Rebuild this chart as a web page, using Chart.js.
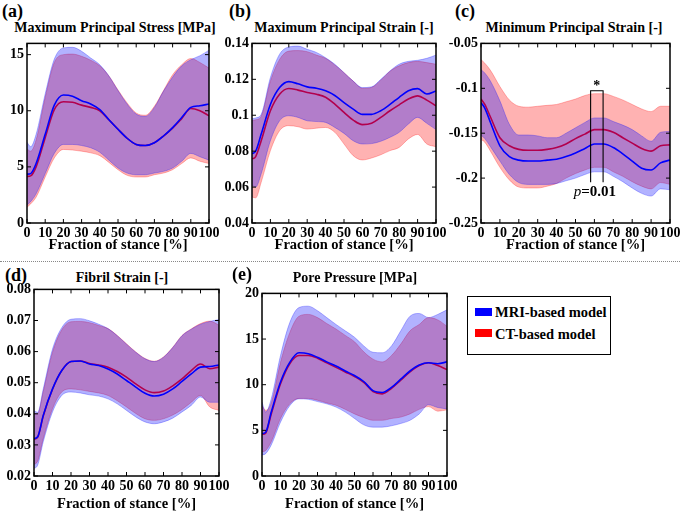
<!DOCTYPE html>
<html>
<head>
<meta charset="utf-8">
<script src="https://cdn.jsdelivr.net/npm/chart.js@4.4.1/dist/chart.umd.min.js"></script>
<style>
  body { margin: 0; background: #fff; }
  #fig { position: relative; width: 680px; height: 511px; overflow: hidden;
         font-family: "Liberation Serif", "Times New Roman", serif; font-weight: bold; color: #000; }
  .tag { position: absolute; font-size: 18px; line-height: 20px; }
  .ttl { position: absolute; font-size: 14px; line-height: 20px; white-space: nowrap; transform: translateX(-50%); }
  .sep { position: absolute; left: 0; top: 261px; width: 680px; border-top: 1px dotted #888; }
  .legend { position: absolute; left: 467px; top: 296px; width: 142px; height: 57px; border: 1px solid #000; }
  .legend .sw { position: absolute; left: 7px; width: 17px; height: 8px; }
  .legend .lb { position: absolute; left: 27px; font-size: 14.5px; line-height: 20px; white-space: nowrap; }
</style>
</head>
<body>
<div id="fig">
  <div class="sep"></div>
  <div class="legend">
    <div class="sw" style="top:11px;background:#0000ff"></div>
    <div class="lb" style="top:5px">MRI-based model</div>
    <div class="sw" style="top:32px;background:#ff0000"></div>
    <div class="lb" style="top:27px">CT-based model</div>
  </div>
</div>
<script>
// fraction of stance [%] at which values were read
const STANCE = [0, 2, 5, 10, 15, 20, 25, 30, 35, 40, 45, 50, 55, 60, 65, 70, 75, 80, 85, 90, 95, 100];
const X_TICKS = [0, 10, 20, 30, 40, 50, 60, 70, 80, 90, 100];

// (a) Maximum principal stress [MPa]
const A_MRI_MEAN = [4.35, 4.4, 5.3, 7.9, 10.5, 11.4, 11.3, 10.9, 10.6, 10.1, 9.2, 8.35, 7.55, 7.0, 6.9, 7.15, 7.75, 8.5, 9.4, 10.3, 10.45, 10.6];
const A_MRI_UP   = [7.2, 6.8, 7.9, 11.5, 14.6, 15.6, 15.65, 15.3, 14.7, 14.1, 13.1, 11.8, 10.6, 9.7, 9.5, 10.3, 11.75, 13.0, 14.0, 14.55, 14.9, 15.4];
const A_MRI_LO   = [1.6, 1.9, 2.6, 4.4, 6.2, 7.0, 7.0, 6.9, 6.7, 6.3, 5.6, 4.9, 4.45, 4.3, 4.3, 4.45, 4.6, 4.9, 5.5, 6.2, 5.9, 5.6];
const A_CT_MEAN  = [4.15, 4.2, 5.0, 7.6, 10.1, 10.8, 10.75, 10.5, 10.3, 10.0, 9.2, 8.35, 7.55, 7.0, 6.9, 7.15, 7.75, 8.45, 9.3, 10.2, 10.0, 9.55];
const A_CT_UP    = [6.6, 6.4, 7.4, 11.2, 14.3, 15.0, 15.05, 14.85, 14.5, 14.0, 13.1, 11.85, 10.7, 9.8, 9.6, 10.4, 11.8, 13.2, 14.1, 14.65, 14.3, 13.8];
const A_CT_LO    = [1.4, 1.7, 2.3, 4.1, 5.8, 6.55, 6.5, 6.4, 6.25, 6.0, 5.4, 4.75, 4.25, 4.1, 4.1, 4.3, 4.45, 4.75, 5.3, 5.8, 5.5, 5.3];
const A_Y_TICKS  = [0, 5, 10, 15];
const A_Y_LABELS = ['0', '5', '10', '15'];

// (b) Maximum principal strain [-]
const B_MRI_MEAN = [0.0785, 0.080, 0.0895, 0.106, 0.1154, 0.1187, 0.1175, 0.1158, 0.115, 0.1136, 0.111, 0.107, 0.1034, 0.1005, 0.1005, 0.1025, 0.106, 0.110, 0.1136, 0.1148, 0.1118, 0.1135];
const B_MRI_UP   = [0.098, 0.0985, 0.1005, 0.121, 0.134, 0.138, 0.1385, 0.1367, 0.135, 0.132, 0.1284, 0.1237, 0.119, 0.1154, 0.1158, 0.120, 0.1247, 0.1284, 0.130, 0.1306, 0.1317, 0.1335];
const B_MRI_LO   = [0.061, 0.060, 0.0674, 0.0858, 0.0969, 0.0997, 0.0988, 0.0969, 0.0965, 0.096, 0.0932, 0.0899, 0.0858, 0.084, 0.0842, 0.0855, 0.0877, 0.0905, 0.0951, 0.0988, 0.0955, 0.092];
const B_CT_MEAN  = [0.0757, 0.077, 0.0858, 0.1025, 0.1117, 0.1149, 0.114, 0.1127, 0.1117, 0.110, 0.1062, 0.1016, 0.0973, 0.0948, 0.0955, 0.0988, 0.1025, 0.1058, 0.109, 0.1108, 0.1084, 0.1052];
const B_CT_UP    = [0.097, 0.0975, 0.0995, 0.119, 0.1311, 0.1357, 0.136, 0.1354, 0.1335, 0.1317, 0.128, 0.1237, 0.119, 0.115, 0.1155, 0.1195, 0.1245, 0.1275, 0.1293, 0.130, 0.1293, 0.1284];
const B_CT_LO    = [0.0545, 0.054, 0.0627, 0.0803, 0.0914, 0.0942, 0.0936, 0.0923, 0.0928, 0.0932, 0.0905, 0.084, 0.0775, 0.0751, 0.0762, 0.078, 0.0803, 0.0821, 0.0868, 0.0893, 0.084, 0.0825];
const B_Y_TICKS  = [0.04, 0.06, 0.08, 0.1, 0.12, 0.14];
const B_Y_LABELS = ['0.04', '0.06', '0.08', '0.1', '0.12', '0.14'];

// (c) Minimum principal strain [-]
const C_MRI_MEAN = [-0.116, -0.122, -0.138, -0.164, -0.176, -0.18, -0.181, -0.181, -0.180, -0.179, -0.176, -0.172, -0.167, -0.162, -0.162, -0.166, -0.173, -0.181, -0.189, -0.191, -0.183, -0.180];
const C_MRI_UP   = [-0.079, -0.083, -0.092, -0.114, -0.140, -0.152, -0.152, -0.153, -0.155, -0.155, -0.150, -0.144, -0.138, -0.133, -0.133, -0.137, -0.141, -0.146, -0.153, -0.159, -0.149, -0.148];
const C_MRI_LO   = [-0.152, -0.156, -0.165, -0.181, -0.196, -0.205, -0.207, -0.207, -0.207, -0.206, -0.203, -0.200, -0.196, -0.193, -0.193, -0.198, -0.204, -0.211, -0.217, -0.220, -0.212, -0.213];
const C_CT_MEAN  = [-0.112, -0.118, -0.132, -0.155, -0.164, -0.168, -0.169, -0.169, -0.168, -0.166, -0.162, -0.156, -0.151, -0.146, -0.146, -0.149, -0.155, -0.161, -0.167, -0.170, -0.164, -0.163];
const C_CT_UP    = [-0.068, -0.072, -0.080, -0.098, -0.113, -0.120, -0.121, -0.120, -0.119, -0.118, -0.115, -0.112, -0.108, -0.106, -0.106, -0.109, -0.113, -0.118, -0.123, -0.126, -0.120, -0.120];
const C_CT_LO    = [-0.157, -0.160, -0.170, -0.188, -0.202, -0.210, -0.211, -0.211, -0.209, -0.206, -0.200, -0.195, -0.191, -0.188, -0.188, -0.193, -0.198, -0.204, -0.209, -0.212, -0.205, -0.207];
const C_Y_TICKS  = [-0.25, -0.2, -0.15, -0.1, -0.05];
const C_Y_LABELS = ['-0.25', '-0.2', '-0.15', '-0.1', '-0.05'];
// significance bracket in (c)
const C_SIG_X = [58, 58, 64.6, 64.6];
const C_SIG_Y = [-0.2047, -0.1027, -0.1027, -0.2047];
const C_STAR_AT = [61.3, -0.098];
const C_P_AT = [60.2, -0.2157];

// (d) Fibril strain [-]
const D_MRI_MEAN = [0.032, 0.0326, 0.0395, 0.048, 0.0539, 0.0568, 0.057, 0.056, 0.0555, 0.0544, 0.0528, 0.0507, 0.0486, 0.0466, 0.0457, 0.0463, 0.048, 0.0504, 0.0528, 0.055, 0.0552, 0.0557];
const D_MRI_UP   = [0.041, 0.0405, 0.048, 0.0608, 0.0677, 0.0704, 0.0706, 0.0699, 0.0688, 0.0674, 0.0651, 0.0624, 0.0598, 0.0577, 0.0568, 0.0582, 0.0613, 0.0651, 0.0672, 0.0688, 0.0697, 0.0703];
const D_MRI_LO   = [0.0224, 0.0235, 0.031, 0.0406, 0.0459, 0.047, 0.0467, 0.0461, 0.0457, 0.0448, 0.0432, 0.0411, 0.039, 0.0374, 0.0368, 0.0374, 0.0386, 0.0406, 0.0427, 0.0454, 0.0437, 0.0437];
const D_CT_MEAN  = [0.0318, 0.0325, 0.0393, 0.0479, 0.0539, 0.0568, 0.057, 0.0562, 0.0557, 0.055, 0.0536, 0.0518, 0.0496, 0.0477, 0.0468, 0.0473, 0.049, 0.0512, 0.0539, 0.056, 0.0545, 0.055];
const D_CT_UP    = [0.040, 0.040, 0.0472, 0.0598, 0.067, 0.0696, 0.0697, 0.0693, 0.0684, 0.0674, 0.0652, 0.0625, 0.0599, 0.0578, 0.0569, 0.0583, 0.0614, 0.0652, 0.0673, 0.069, 0.0698, 0.0685];
const D_CT_LO    = [0.0237, 0.0248, 0.032, 0.0416, 0.047, 0.048, 0.0477, 0.0472, 0.0467, 0.0459, 0.0442, 0.0422, 0.0401, 0.0384, 0.0379, 0.0384, 0.0396, 0.0414, 0.0437, 0.0459, 0.0422, 0.0411];
const D_Y_TICKS  = [0.02, 0.03, 0.04, 0.05, 0.06, 0.07, 0.08];
const D_Y_LABELS = ['0.02', '0.03', '0.04', '0.05', '0.06', '0.07', '0.08'];

// (e) Pore pressure [MPa]
const E_MRI_MEAN = [4.65, 4.8, 7.0, 10.3, 12.45, 13.5, 13.4, 13.0, 12.5, 12.05, 11.5, 11.0, 10.35, 9.35, 9.15, 9.7, 10.6, 11.5, 12.15, 12.4, 12.3, 12.5];
const E_MRI_UP   = [8.1, 7.0, 8.45, 13.2, 16.8, 18.45, 18.6, 18.1, 17.35, 16.6, 15.9, 15.2, 14.25, 13.55, 13.5, 14.25, 15.9, 17.5, 17.8, 17.35, 17.7, 18.2];
const E_MRI_LO   = [2.3, 2.45, 3.4, 5.9, 7.7, 8.45, 8.4, 8.15, 7.9, 7.55, 7.0, 6.3, 5.6, 5.35, 5.35, 5.5, 5.75, 6.1, 6.8, 7.8, 7.5, 7.35];
const E_CT_MEAN  = [4.55, 4.7, 6.8, 10.1, 12.3, 13.2, 13.2, 12.9, 12.4, 11.9, 11.4, 10.9, 10.25, 9.25, 9.0, 9.6, 10.5, 11.4, 12.1, 12.4, 12.1, 11.65];
const E_CT_UP    = [7.7, 7.2, 8.0, 12.45, 15.7, 17.5, 17.7, 17.35, 16.7, 16.1, 15.4, 14.7, 13.6, 12.8, 12.5, 13.2, 14.45, 15.9, 16.6, 17.35, 17.1, 16.4];
const E_CT_LO    = [2.65, 2.8, 3.75, 6.3, 7.9, 8.5, 8.5, 8.3, 8.0, 7.75, 7.3, 6.8, 6.4, 6.1, 6.1, 6.3, 6.45, 6.8, 7.3, 7.6, 7.1, 7.25];
const E_Y_TICKS  = [0, 5, 10, 15, 20];
const E_Y_LABELS = ['0', '5', '10', '15', '20'];

const X_TITLE = 'Fraction of stance [%]';

const panels = [
  { tag: '(a)', title: 'Maximum Principal Stress [MPa]', box: [27, 42, 209, 223], tagAt: [2, 1], ttlAt: [115, 18],
    yMax: 16, yTicks: A_Y_TICKS, yLabels: A_Y_LABELS, mri: [A_MRI_MEAN, A_MRI_UP, A_MRI_LO], ct: [A_CT_MEAN, A_CT_UP, A_CT_LO], xh: 31 },
  { tag: '(b)', title: 'Maximum Principal Strain [-]', box: [252, 42, 436, 223], tagAt: [229, 1], ttlAt: [344, 18],
    yMax: 0.14, yTicks: B_Y_TICKS, yLabels: B_Y_LABELS, mri: [B_MRI_MEAN, B_MRI_UP, B_MRI_LO], ct: [B_CT_MEAN, B_CT_UP, B_CT_LO], xh: 31 },
  { tag: '(c)', title: 'Minimum Principal Strain [-]', box: [481, 42, 670, 223], tagAt: [455, 1], ttlAt: [574, 18],
    yMax: -0.05, yTicks: C_Y_TICKS, yLabels: C_Y_LABELS, mri: [C_MRI_MEAN, C_MRI_UP, C_MRI_LO], ct: [C_CT_MEAN, C_CT_UP, C_CT_LO], xh: 31, sig: true },
  { tag: '(d)', title: 'Fibril Strain [-]', box: [34, 288, 219, 476], tagAt: [5, 265], ttlAt: [122, 268],
    yMax: 0.08, yTicks: D_Y_TICKS, yLabels: D_Y_LABELS, mri: [D_MRI_MEAN, D_MRI_UP, D_MRI_LO], ct: [D_CT_MEAN, D_CT_UP, D_CT_LO], xh: 37 },
  { tag: '(e)', title: 'Pore Pressure [MPa]', box: [262, 292, 447, 476], tagAt: [232, 264], ttlAt: [355, 268],
    yMax: 20, yTicks: E_Y_TICKS, yLabels: E_Y_LABELS, mri: [E_MRI_MEAN, E_MRI_UP, E_MRI_LO], ct: [E_CT_MEAN, E_CT_UP, E_CT_LO], xh: 37 }
];

const SERIF = '"Liberation Serif", "Times New Roman", serif';
const tickFont = { family: SERIF, size: 14, weight: 'bold' };

function pts(arr) {
  return STANCE.map(function(x, i) { return { x: x, y: arr[i] }; });
}

// box around the plot plus inward tick marks on all four sides
const framePlugin = {
  id: 'frame',
  afterDatasetsDraw(chart) {
    const ctx = chart.ctx, a = chart.chartArea, sx = chart.scales.x, sy = chart.scales.y;
    ctx.save();
    ctx.strokeStyle = '#000';
    ctx.lineWidth = 1;
    ctx.beginPath();
    sx.ticks.forEach(function(t) {
      const p = sx.getPixelForValue(t.value);
      ctx.moveTo(p, a.bottom); ctx.lineTo(p, a.bottom - 4);
      ctx.moveTo(p, a.top); ctx.lineTo(p, a.top + 4);
    });
    sy.ticks.forEach(function(t) {
      const p = sy.getPixelForValue(t.value);
      ctx.moveTo(a.left, p); ctx.lineTo(a.left + 4, p);
      ctx.moveTo(a.right, p); ctx.lineTo(a.right - 4, p);
    });
    ctx.stroke();
    ctx.lineWidth = 1.5;
    ctx.strokeRect(a.left, a.top, a.right - a.left, a.bottom - a.top);
    ctx.restore();
  }
};

// asterisk and p-value for panel (c)
const sigTextPlugin = {
  id: 'sigText',
  afterDatasetsDraw(chart) {
    const ctx = chart.ctx, sx = chart.scales.x, sy = chart.scales.y;
    ctx.save();
    ctx.fillStyle = '#000';
    ctx.textBaseline = 'middle';
    ctx.textAlign = 'center';
    ctx.font = 'bold 14px ' + SERIF;
    ctx.fillText('*', sx.getPixelForValue(C_STAR_AT[0]), sy.getPixelForValue(C_STAR_AT[1]));
    const cx = sx.getPixelForValue(C_P_AT[0]), cy = sy.getPixelForValue(C_P_AT[1]);
    ctx.font = 'italic 15px ' + SERIF;
    const wp = ctx.measureText('p').width;
    ctx.font = 'bold 15px ' + SERIF;
    const wr = ctx.measureText('=0.01').width;
    const x0 = cx - (wp + wr) / 2;
    ctx.textAlign = 'left';
    ctx.font = 'italic 15px ' + SERIF;
    ctx.fillText('p', x0, cy);
    ctx.font = 'bold 15px ' + SERIF;
    ctx.fillText('=0.01', x0 + wp, cy);
    ctx.restore();
  }
};

const fig = document.getElementById('fig');

panels.forEach(function(p) {
  const L = p.box[0], T = p.box[1], R = p.box[2], B = p.box[3];
  const yw = 36, pt = 10, pr = 14;
  const w = yw + (R - L) + pr, h = pt + (B - T) + p.xh;

  const tag = document.createElement('div');
  tag.className = 'tag';
  tag.style.left = p.tagAt[0] + 'px';
  tag.style.top = p.tagAt[1] + 'px';
  tag.textContent = p.tag;
  fig.appendChild(tag);

  const ttl = document.createElement('div');
  ttl.className = 'ttl';
  ttl.style.left = p.ttlAt[0] + 'px';
  ttl.style.top = p.ttlAt[1] + 'px';
  ttl.textContent = p.title;
  fig.appendChild(ttl);

  const cv = document.createElement('canvas');
  cv.width = w; cv.height = h;
  cv.style.cssText = 'position:absolute;left:' + (L - yw) + 'px;top:' + (T - pt) + 'px;width:' + w + 'px;height:' + h + 'px;';
  fig.appendChild(cv);

  const line = { pointRadius: 0, cubicInterpolationMode: 'monotone' };
  const datasets = [
    Object.assign({ label: 'MRI-based model', data: pts(p.mri[0]), borderColor: '#0000ff', borderWidth: 1.6, fill: false, order: 0 }, line),
    Object.assign({ label: 'MRI upper', data: pts(p.mri[1]), borderColor: 'rgba(0,0,255,0.35)', borderWidth: 0.8,
                    backgroundColor: 'rgba(0,0,255,0.3)', fill: 2, order: 1 }, line),
    Object.assign({ label: 'MRI lower', data: pts(p.mri[2]), borderColor: 'rgba(0,0,255,0.35)', borderWidth: 0.8, fill: false, order: 2 }, line),
    Object.assign({ label: 'CT-based model', data: pts(p.ct[0]), borderColor: '#ff0000', borderWidth: 1.6, fill: false, order: 3 }, line),
    Object.assign({ label: 'CT upper', data: pts(p.ct[1]), borderColor: 'rgba(255,0,0,0.35)', borderWidth: 0.8,
                    backgroundColor: 'rgba(255,0,0,0.3)', fill: 5, order: 4 }, line),
    Object.assign({ label: 'CT lower', data: pts(p.ct[2]), borderColor: 'rgba(255,0,0,0.35)', borderWidth: 0.8, fill: false, order: 5 }, line)
  ];
  const extra = [framePlugin];
  if (p.sig) {
    datasets.push({
      label: 'significance',
      data: C_SIG_X.map(function(x, i) { return { x: x, y: C_SIG_Y[i] }; }),
      borderColor: '#000', borderWidth: 1.1, pointRadius: 0, tension: 0, fill: false, order: -1
    });
    extra.push(sigTextPlugin);
  }

  new Chart(cv.getContext('2d'), {
    type: 'line',
    data: { datasets: datasets },
    options: {
      responsive: false,
      animation: false,
      layout: { padding: { top: pt, right: pr, left: 0, bottom: 0 } },
      plugins: { legend: { display: false }, tooltip: { enabled: false } },
      scales: {
        x: {
          type: 'linear', min: 0, max: 100,
          grid: { display: false, drawTicks: false },
          border: { display: false },
          afterBuildTicks: function(s) { s.ticks = X_TICKS.map(function(v) { return { value: v }; }); },
          ticks: { font: tickFont, color: '#000', padding: 2, maxRotation: 0, autoSkip: false,
                   callback: function(v) { return String(v); } },
          title: { display: true, text: X_TITLE, color: '#000', padding: 0,
                   font: { family: SERIF, size: 14.5, weight: 'bold' } },
          afterFit: function(s) { s.height = p.xh; }
        },
        y: {
          type: 'linear', min: p.yTicks[0], max: p.yMax,
          grid: { display: false, drawTicks: false },
          border: { display: false },
          afterBuildTicks: function(s) { s.ticks = p.yTicks.map(function(v) { return { value: v }; }); },
          ticks: { font: tickFont, color: '#000', padding: 3, autoSkip: false,
                   callback: function(v, i) { return p.yLabels[i]; } },
          afterFit: function(s) { s.width = yw; }
        }
      }
    },
    plugins: extra
  });
});
</script>
</body>
</html>
